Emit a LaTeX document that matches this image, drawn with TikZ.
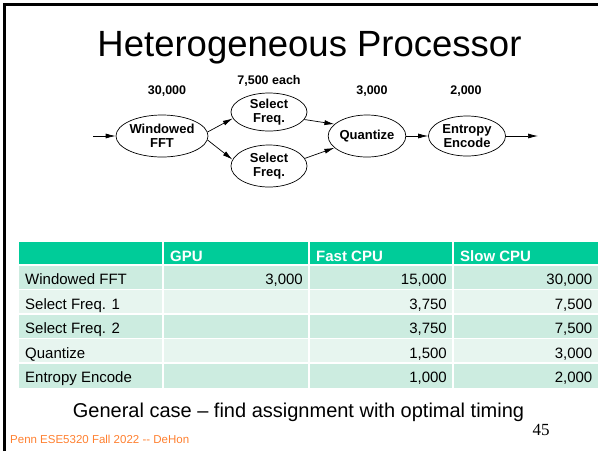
\documentclass[tikz,border=0pt]{standalone}
\usepackage{fontspec}
\setmainfont{Liberation Sans}
\newfontfamily\pagefont{Liberation Serif}
\usepackage{xcolor}
\usetikzlibrary{arrows.meta,shapes.geometric}

\definecolor{hdrgreen}{RGB}{0,204,153}
\definecolor{rowdark}{RGB}{204,236,224}
\definecolor{rowlight}{RGB}{231,245,239}
\definecolor{pennorange}{RGB}{255,128,48}

\tikzset{
  stage/.style={draw, ellipse, line width=0.7pt, inner sep=0pt, align=center,
    font=\bfseries\fontsize{13}{13.5}\selectfont},
  cost/.style={anchor=base, font=\bfseries\fontsize{12.5}{14}\selectfont},
  flow/.style={-{Latex[length=10pt,width=5pt]}, line width=0.7pt},
  cell/.style={inner sep=0pt, font=\fontsize{15}{18}\selectfont},
  hcell/.style={inner sep=0pt, anchor=base west, text=white,
    font=\bfseries\fontsize{15}{18}\selectfont}
}

\begin{document}
\begin{tikzpicture}[x=1pt,y=-1pt]
  \useasboundingbox (0,0) rectangle (598,451);

  % slide frame
  \draw[line width=2.6pt] (4.2,451) -- (4.2,4.2) -- (598,4.2);

  \node[anchor=base, font=\fontsize{36.5}{40}\selectfont] (title) at (309.5,56) {Heterogeneous Processor};

  % pipeline
  \node[stage, minimum width=92, minimum height=42] (fft) at (162,136) {Windowed\\FFT};
  \node[stage, minimum width=76, minimum height=38] (selA) at (269,112) {Select\\Freq.};
  \node[stage, minimum width=76, minimum height=42] (selB) at (269,166) {Select\\Freq.};
  \node[stage, minimum width=75, minimum height=42] (quant) at (367,136) {Quantize};
  \node[stage, minimum width=77, minimum height=40] (entropy) at (467,136) {Entropy\\Encode};
  \coordinate (in) at (93,136);
  \coordinate (out) at (538,136);

  \node[cost] (costfft) at (167,94) {30,000};
  \node[cost] (costsel) at (269,84) {7,500 each};
  \node[cost] (costquant) at (372,94) {3,000};
  \node[cost] (costentropy) at (466,94) {2,000};

  \draw[flow] (in) -- (fft);
  \draw[flow] (fft.5) -- (selA.190);
  \draw[flow] (fft.-5) -- (selB.170);
  \draw[flow] (selA.-12) -- (quant.160);
  \draw[flow] (selB.12) -- (quant.200);
  \draw[flow] (quant) -- (entropy);
  \draw[flow] (entropy) -- (out);

  % table
  \fill[hdrgreen] (19,242) rectangle (598,265);
  \node[hcell] (hgpu) at (170,261) {GPU};
  \node[hcell] (hfast) at (316,261) {Fast CPU};
  \node[hcell] (hslow) at (460,261) {Slow CPU};
  \foreach \shade/\task/\fast/\slow [count=\i] in {
      rowdark/{Windowed FFT}/{15,000}/{30,000},
      rowlight/{Select Freq. 1}/{3,750}/{7,500},
      rowdark/{Select Freq. 2}/{3,750}/{7,500},
      rowlight/{Quantize}/{1,500}/{3,000},
      rowdark/{Entropy Encode}/{1,000}/{2,000}}{
    \pgfmathsetmacro\rowtop{265+(\i-1)*24.5}
    \fill[\shade] (19,\rowtop) rectangle (598,\rowtop+24.5);
    \node[cell, anchor=base west] (task\i) at (25,\rowtop+19.5) {\task};
    \node[cell, anchor=base east] (fast\i) at (447,\rowtop+19.5) {\fast};
    \node[cell, anchor=base east] (slow\i) at (592.5,\rowtop+19.5) {\slow};
  }
  \node[cell, anchor=base east] (gpu1) at (303,284.5) {3,000};
  \foreach \x in {163,309,453}
    \draw[white, line width=1.2pt] (\x,242) -- (\x,387.5);
  \foreach \y in {265,289.5,314,338.5,363}
    \draw[white, line width=1.2pt] (19,\y) -- (598,\y);

  \node[anchor=base, font=\fontsize{20}{24}\selectfont] (note) at (298.5,417)
    {General case -- find assignment with optimal timing};
  \node[anchor=base, font=\pagefont\fontsize{17}{18}\selectfont] (pagenum) at (541,435) {45};
  \node[anchor=base west, inner sep=0pt, text=pennorange, font=\fontsize{11.5}{13}\selectfont]
    (footer) at (10,443.5) {Penn ESE5320 Fall 2022 {-}{-} DeHon};
\end{tikzpicture}
\end{document}
